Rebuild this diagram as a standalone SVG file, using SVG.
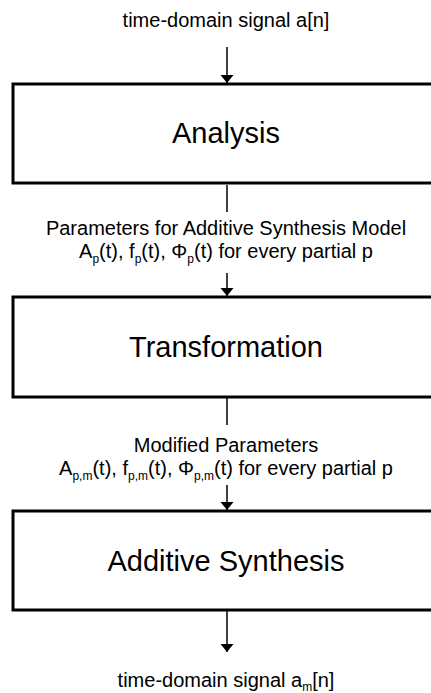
<svg xmlns="http://www.w3.org/2000/svg" width="431" height="693" viewBox="0 0 431 693">
<style>
text{font-family:"Liberation Sans",Arial,sans-serif;fill:#000;text-anchor:middle}
.lbl{font-size:20px}
.big{font-size:29px}
.sub{font-size:12px}
.box{fill:#fff;stroke:#000;stroke-width:3}
.con{stroke:#000;stroke-width:1.5;fill:none}
</style>
<defs>
<marker id="ah" markerWidth="9" markerHeight="14" refX="8" refY="7" orient="auto" markerUnits="userSpaceOnUse">
<path d="M0,0.5 L8,7 L0,13.5 Z" fill="#000"/>
</marker>
</defs>
<rect width="431" height="693" fill="#fff"/>
<g id="connectors">
<line class="con" x1="227" y1="47" x2="227" y2="83" marker-end="url(#ah)"/>
<line class="con" x1="227" y1="185" x2="227" y2="212"/>
<line class="con" x1="227" y1="273" x2="227" y2="296" marker-end="url(#ah)"/>
<line class="con" x1="227" y1="398" x2="227" y2="425"/>
<line class="con" x1="227" y1="485" x2="227" y2="510" marker-end="url(#ah)"/>
<line class="con" x1="227" y1="611" x2="227" y2="652" marker-end="url(#ah)"/>
</g>
<g id="input">
<text class="lbl" x="226" y="27">time-domain signal a[n]</text>
</g>
<g id="analysis">
<rect class="box" x="13" y="84" width="427" height="99"/>
<text class="big" x="226" y="143">Analysis</text>
</g>
<g id="params">
<text class="lbl" x="226" y="235">Parameters for Additive Synthesis Model</text>
<text class="lbl" x="226" y="258">A<tspan class="sub" dy="5">p</tspan><tspan dy="-5">(t), f</tspan><tspan class="sub" dy="5">p</tspan><tspan dy="-5">(t), Φ</tspan><tspan class="sub" dy="5">p</tspan><tspan dy="-5">(t) for every partial p</tspan></text>
</g>
<g id="transformation">
<rect class="box" x="13" y="297" width="427" height="100"/>
<text class="big" x="226" y="357">Transformation</text>
</g>
<g id="modparams">
<text class="lbl" x="226" y="452">Modified Parameters</text>
<text class="lbl" x="226" y="475">A<tspan class="sub" dy="5">p,m</tspan><tspan dy="-5">(t), f</tspan><tspan class="sub" dy="5">p,m</tspan><tspan dy="-5">(t), Φ</tspan><tspan class="sub" dy="5">p,m</tspan><tspan dy="-5">(t) for every partial p</tspan></text>
</g>
<g id="synthesis">
<rect class="box" x="13" y="511" width="427" height="99"/>
<text class="big" x="226" y="571">Additive Synthesis</text>
</g>
<g id="output">
<text class="lbl" x="226" y="687">time-domain signal a<tspan class="sub" dy="4">m</tspan><tspan dy="-4">[n]</tspan></text>
</g>
</svg>
